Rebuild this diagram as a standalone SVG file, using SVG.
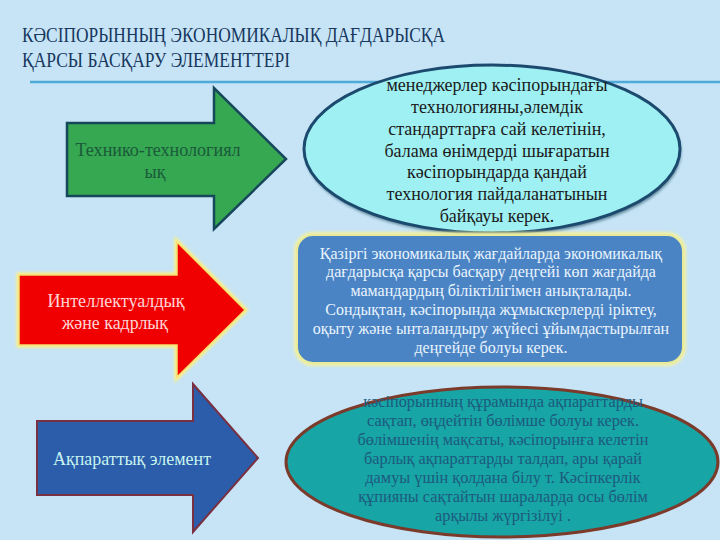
<svg xmlns="http://www.w3.org/2000/svg" width="720" height="540" viewBox="0 0 720 540">
<defs>
<style>
text{font-family:"Liberation Serif","DejaVu Serif",serif;}
.title{font-size:21px;fill:#17375e;}
.e1{font-size:18px;fill:#1a1a1a;text-anchor:middle;}
.rt{font-size:16px;fill:#eaf4ff;text-anchor:middle;}
.e3{font-size:16.3px;fill:#1d5a7e;text-anchor:middle;}
.arr{font-size:18px;text-anchor:middle;}
</style>
<filter id="glow" x="-10%" y="-10%" width="120%" height="120%">
<feGaussianBlur stdDeviation="1.5"/>
</filter>
</defs>
<rect width="720" height="540" fill="#c6e4f6"/>
<g id="title">
<text class="title" x="22" y="42" textLength="423" lengthAdjust="spacingAndGlyphs">КӘСІПОРЫННЫҢ ЭКОНОМИКАЛЫҚ ДАҒДАРЫСҚА</text>
<text class="title" x="22" y="67" textLength="268" lengthAdjust="spacingAndGlyphs">ҚАРСЫ БАСҚАРУ  ЭЛЕМЕНТТЕРІ</text>
<line x1="30" y1="82" x2="720" y2="82" stroke="#4eabd8" stroke-width="2.5"/>
</g>
<g id="arrow-tech">
<polygon points="67,123 214,123 214,88 286,159 214,229 214,196 67,196" fill="#36a852" stroke="#17475a" stroke-width="2.5"/>
<text class="arr" x="158" y="156" fill="#1a5a3a" textLength="165" lengthAdjust="spacingAndGlyphs">Технико-технологиял</text>
<text class="arr" x="155" y="178" fill="#1a5a3a">ық</text>
</g>
<g id="ellipse-tech">
<ellipse cx="493" cy="152" rx="188" ry="84" fill="#0f3a50" opacity="0.6" filter="url(#glow)"/>
<ellipse cx="492" cy="149" rx="188" ry="84" fill="#9ff0f2" stroke="#1c4a6e" stroke-width="3"/>
<text class="e1" x="497" y="91">менеджерлер кәсіпорындағы</text>
<text class="e1" x="497" y="113">технологияны,әлемдік</text>
<text class="e1" x="497" y="135">стандарттарға сай келетінін,</text>
<text class="e1" x="497" y="157">балама өнімдерді шығаратын</text>
<text class="e1" x="497" y="178">кәсіпорындарда қандай</text>
<text class="e1" x="497" y="200">технология пайдаланатынын</text>
<text class="e1" x="497" y="222">байқауы керек.</text>
</g>
<g id="arrow-intel">
<polygon points="19,275 177,275 177,242 245,310 177,377 177,345 19,345" fill="none" stroke="#fff080" stroke-width="5" filter="url(#glow)"/>
<polygon points="19,275 177,275 177,242 245,310 177,377 177,345 19,345" fill="#f00000" stroke="#f5e070" stroke-width="1.5"/>
<text class="arr" x="116" y="307" fill="#ffd6d6" textLength="137" lengthAdjust="spacingAndGlyphs">Интеллектуалдық</text>
<text class="arr" x="115" y="329" fill="#ffd6d6" textLength="106" lengthAdjust="spacingAndGlyphs">және кадрлық</text>
</g>
<g id="box-intel">
<rect x="297" y="235" width="386" height="128" rx="16" fill="none" stroke="#f4f0a0" stroke-width="6" filter="url(#glow)"/>
<rect x="297" y="235" width="386" height="128" rx="16" fill="#4a84c4" stroke="#e8ec9a" stroke-width="2"/>
<text class="rt" x="491" y="258.5">Қазіргі экономикалық жағдайларда экономикалық</text>
<text class="rt" x="491" y="277.3">дағдарысқа қарсы басқару деңгейі көп жағдайда</text>
<text class="rt" x="491" y="296">мамандардың біліктілігімен анықталады.</text>
<text class="rt" x="491" y="315">Сондықтан, кәсіпорында жұмыскерлерді іріктеу,</text>
<text class="rt" x="491" y="333.7">оқыту және ынталандыру жүйесі ұйымдастырылған</text>
<text class="rt" x="491" y="352.5">деңгейде болуы керек.</text>
</g>
<g id="arrow-info">
<polygon points="37,421 193,421 193,384 258,458 193,532 193,495 37,495" fill="#2b5daa" stroke="#7a3040" stroke-width="2"/>
<text class="arr" x="132" y="465" fill="#c8f4f0" textLength="158" lengthAdjust="spacingAndGlyphs">Ақпараттық элемент</text>
</g>
<g id="ellipse-info">
<ellipse cx="502" cy="462" rx="216" ry="75" fill="#17a5a5" stroke="#7b3a2a" stroke-width="3"/>
<text class="e3" x="503" y="407">кәсіпорынның құрамында ақпараттарды</text>
<text class="e3" x="503" y="426">сақтап, өңдейтін бөлімше болуы керек.</text>
<text class="e3" x="503" y="445">бөлімшенің мақсаты, кәсіпорынға келетін</text>
<text class="e3" x="503" y="464">барлық ақпараттарды талдап, ары қарай</text>
<text class="e3" x="503" y="483">дамуы үшін қолдана білу т. Кәсіпкерлік</text>
<text class="e3" x="503" y="502">құпияны сақтайтын шараларда осы бөлім</text>
<text class="e3" x="503" y="521">арқылы жүргізілуі .</text>
</g>
<g id="connectors"/>
</svg>
